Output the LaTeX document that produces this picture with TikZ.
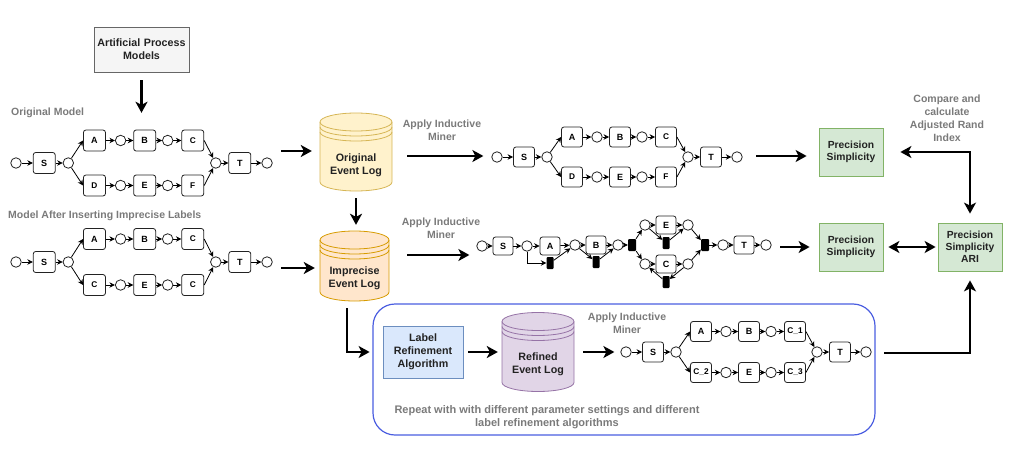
\documentclass[tikz,border=0pt]{standalone}
\usepackage{fontspec}
\setmainfont{Liberation Sans}
\usetikzlibrary{arrows.meta,calc}
\definecolor{gtxt}{HTML}{7A7A7A}
\definecolor{ink}{HTML}{222222}
\definecolor{gbd}{HTML}{82B366}\definecolor{gfl}{HTML}{D5E8D4}
\tikzset{
  tbox/.style={draw=ink,line width=.8pt,fill=white,rounded corners=2.5pt,minimum width=21pt,minimum height=20pt,inner sep=0pt,font=\bfseries\fontsize{9}{10}\selectfont},
  wbox/.style={tbox,font=\bfseries\fontsize{8.3}{10}\selectfont},
  smallbox/.style={tbox,minimum width=20pt,minimum height=18pt},
  place/.style={draw=ink,line width=.8pt,fill=white,circle,minimum size=10.5pt,inner sep=0pt},
  bar/.style={fill=black,rounded corners=1pt,minimum width=7pt,minimum height=12pt,inner sep=0pt},
  sarr/.style={draw=black,line width=.8pt,-{Stealth[length=5.5pt,width=5.5pt]}},
  bigarr/.style={draw=black,line width=2.2pt,-{Stealth[length=11pt,width=12pt,inset=3pt]}},
  bigdbl/.style={draw=black,line width=2.2pt,{Stealth[length=11pt,width=12pt,inset=3pt]}-{Stealth[length=11pt,width=12pt,inset=3pt]}},
  note/.style={text=gtxt,font=\bfseries\fontsize{10.5}{13}\selectfont,align=center,inner sep=0pt},
  body/.style={text=ink,font=\bfseries\fontsize{10.7}{12.8}\selectfont,align=center,inner sep=0pt},
  greenbox/.style={draw=gbd,fill=gfl,line width=.8pt,minimum width=64pt,minimum height=48pt,body,text width=64pt,font=\bfseries\fontsize{10.3}{12}\selectfont},
}
% process model with a common structure
\newcommand{\petri}[8]{%
  \node[place] (#1i) at (0,0) {};
  \node[tbox] (#1s) at (27,0) {S};
  \node[place] (#1a) at (50,0) {};
  \node[tbox] (#1A) at (75,-#2) {#3};
  \node[place] (#1b) at (100,-#2) {};
  \node[tbox] (#1B) at (123,-#2) {#4};
  \node[place] (#1c) at (145,-#2) {};
  \node[wbox] (#1C) at (169,-#2) {#5};
  \node[wbox] (#1D) at (75,#2) {#6};
  \node[place] (#1e) at (100,#2) {};
  \node[tbox] (#1E) at (123,#2) {#7};
  \node[place] (#1f) at (145,#2) {};
  \node[wbox] (#1F) at (169,#2) {#8};
  \node[place] (#1m) at (191,0) {};
  \node[tbox] (#1T) at (214,0) {T};
  \node[place] (#1o) at (240,0) {};
  \draw[sarr] (#1i) -- (#1s);
  \draw[sarr] (#1s) -- (#1a);
  \draw[sarr] (#1a) -- (#1A.west);
  \draw[sarr] (#1a) -- (#1D.west);
  \draw[sarr] (#1A) -- (#1b);
  \draw[sarr] (#1b) -- (#1B);
  \draw[sarr] (#1B) -- (#1c);
  \draw[sarr] (#1c) -- (#1C);
  \draw[sarr] (#1D) -- (#1e);
  \draw[sarr] (#1e) -- (#1E);
  \draw[sarr] (#1E) -- (#1f);
  \draw[sarr] (#1f) -- (#1F);
  \draw[sarr] (#1C.east) -- (#1m);
  \draw[sarr] (#1F.east) -- (#1m);
  \draw[sarr] (#1m) -- (#1T);
  \draw[sarr] (#1T) -- (#1o);
}
% cylinder: name, cx, cy, half width, half height, fill, draw
\newcommand{\logcyl}[7]{%
  \node[minimum width=#4*2pt,minimum height=#5*2pt,inner sep=0pt] (#1) at (#2,#3) {};
  \begin{scope}[shift={(#2,#3)},line width=.8pt]
    \path[fill=#6,draw=#7] (-#4,{-#5+9}) -- (-#4,{#5-9}) arc[start angle=180,end angle=360,x radius=#4pt,y radius=9pt] -- (#4,{-#5+9}) arc[start angle=0,end angle=180,x radius=#4pt,y radius=9pt] -- cycle;
    \draw[#7] (-#4,{-#5+9}) arc[start angle=180,end angle=360,x radius=#4pt,y radius=9pt];
    \draw[#7] (-#4,{-#5+14}) arc[start angle=180,end angle=360,x radius=#4pt,y radius=9pt];
    \draw[#7] (-#4,{-#5+19}) arc[start angle=180,end angle=360,x radius=#4pt,y radius=9pt];
  \end{scope}
}
\begin{document}
\begin{tikzpicture}[x=1pt,y=-1pt]
\useasboundingbox (0,0) rectangle (1014,460);

% container
\node[draw={rgb,255:red,74;green,93;blue,224},line width=1.2pt,rounded corners=22pt,minimum width=502pt,minimum height=131pt,inner sep=0pt] (rep) at (624,369.5) {};

% source box
\node[draw=black!60,fill=black!4,line width=.8pt,minimum width=95pt,minimum height=45pt,body,text width=95pt] (art) at (141.5,49.5) {Artificial Process\\Models};

% titles
\node[note,anchor=west] (t1) at (11,112.5) {Original Model};
\node[note,anchor=west] (t2) at (8,216) {Model After Inserting Imprecise Labels};
\node[note] (t3) at (442,130.5) {Apply Inductive\\Miner};
\node[note] (t4) at (441,228.5) {Apply Inductive\\Miner};
\node[note] (t5) at (627,323.5) {Apply Inductive\\Miner};
\node[note] (t6) at (947,118) {Compare and\\calculate\\Adjusted Rand\\Index};
\node[note,font=\bfseries\fontsize{11}{13}\selectfont] (t7) at (547,417.5) {Repeat with with different parameter settings and different\\label refinement algorithms};

% models
\begin{scope}[shift={(16,163)},x=1.046pt,tbox/.append style={minimum width=22pt,minimum height=21pt}]
  \petri{m}{22.5}{A}{B}{C}{D}{E}{F}
\end{scope}
\begin{scope}[shift={(16,262)},x=1.046pt,tbox/.append style={minimum width=22pt,minimum height=21pt}]
  \petri{n}{23}{A}{B}{C}{C}{E}{C}
\end{scope}
\begin{scope}[shift={(497,157)}]
  \petri{p}{20}{A}{B}{C}{D}{E}{F}
\end{scope}
\begin{scope}[shift={(626,352)}]
  \petri{q}{20.5}{A}{B}{C\_1}{C\_2}{E}{C\_3}
\end{scope}

% discovered imprecise model
\node[place] (ri) at (482,246) {};
\node[smallbox] (rs) at (503,246) {S};
\node[place] (r1) at (527,246) {};
\node[smallbox] (rA) at (550,246) {A};
\node[bar] (rx) at (550,263) {};
\node[place] (r2) at (575,245) {};
\node[smallbox] (rB) at (596,245) {B};
\node[bar] (ry) at (596,262) {};
\node[place] (r3) at (618,245) {};
\node[bar,minimum width=8pt] (rz) at (632,245) {};
\node[place] (e1) at (645,225) {};
\node[smallbox] (rE) at (666,225) {E};
\node[place] (e2) at (688,225) {};
\node[bar] (eb) at (666,243) {};
\node[place] (c1) at (645,264) {};
\node[smallbox] (rC) at (666,264) {C};
\node[place] (c2) at (688,264) {};
\node[bar] (cb) at (666,282) {};
\node[bar,minimum width=8pt] (rw) at (705,245) {};
\node[place] (r4) at (723,245) {};
\node[smallbox] (rT) at (744,245) {T};
\node[place] (ro) at (766,245) {};
\draw[sarr] (ri) -- (rs);
\draw[sarr] (rs) -- (r1);
\draw[sarr] (r1) -- (rA);
\draw[sarr] (r1) |- (rx);
\draw[sarr] (rA) -- (r2);
\draw[sarr] (rx) -- (r2);
\draw[sarr] (r2) -- (rB);
\draw[sarr] (r2) -- (ry);
\draw[sarr] (rB) -- (r3);
\draw[sarr] (ry) -- (r3);
\draw[sarr] (r3) -- (rz);
\draw[sarr] (rz) -- (e1);
\draw[sarr] (rz) -- (c1);
\draw[sarr] (e1) -- (rE);
\draw[sarr] (e1) -- (eb);
\draw[sarr] (rE) -- (e2);
\draw[sarr] (eb) -- (e2);
\draw[sarr] (e2) -- (rw);
\draw[sarr] (c1) -- (rC);
\draw[sarr] (rC) -- (c2);
\draw[sarr] (c2) -- (cb);
\draw[sarr] (cb) -- (c1);
\draw[sarr] (c2) -- (rw);
\draw[sarr] (rw) -- (r4);
\draw[sarr] (r4) -- (rT);
\draw[sarr] (rT) -- (ro);

% logs
\definecolor{yf}{HTML}{FFF2CC}\definecolor{yd}{HTML}{D6B656}
\definecolor{of}{HTML}{FFE6CC}\definecolor{od}{HTML}{D79B00}
\definecolor{pf}{HTML}{E1D5E7}\definecolor{pd}{HTML}{9673A6}
\logcyl{orig}{356}{152}{36}{39}{yf}{yd}
\logcyl{impr}{354.5}{266}{34.5}{35}{of}{od}
\logcyl{refd}{538}{352}{36}{39.5}{pf}{pd}
\node[body] (origt) at (356,165) {Original\\Event Log};
\node[body] (imprt) at (354.5,278) {Imprecise\\Event Log};
\node[body] (refdt) at (538,364) {Refined\\Event Log};

% result boxes
\node[draw={rgb,255:red,108;green,142;blue,191},fill={rgb,255:red,218;green,232;blue,252},line width=.8pt,minimum width=80pt,minimum height=52pt,body,text width=80pt] (lra) at (423,352) {Label\\Refinement\\Algorithm};
\node[greenbox] (g1) at (851,152) {Precision\\Simplicity};
\node[greenbox] (g2) at (851,247) {Precision\\Simplicity};
\node[greenbox] (g3) at (970,247) {Precision\\Simplicity\\ARI};

% free ends
\coordinate (a1) at (281,151);
\coordinate (a2) at (281,268);
\coordinate (a3) at (407,156);
\coordinate (a4) at (407,255);
\coordinate (a5) at (756,156);
\coordinate (a6) at (780,247);
\coordinate (a7) at (884,353);
\coordinate (a8) at (347,308);

\draw[bigarr,shorten <=8pt] (art.south) -- (art.south |- orig.north);
\draw[bigarr,shorten >=8pt] (a1) -- (orig.west |- a1);
\draw[bigarr,shorten >=5pt] (a2) -- (impr.west |- a2);
\draw[bigarr,shorten <=7pt,shorten >=6pt] (orig.south) -- (orig.south |- impr.north);
\draw[bigarr,shorten >=8pt] (a3) -- (pi.west |- a3);
\draw[bigarr,shorten >=7pt] (a4) -- (ri.west |- a4);
\draw[bigarr,shorten >=12pt] (a5) -- (g1.west |- a5);
\draw[bigarr,shorten >=9pt] (a6) -- (g2.west);
\draw[bigdbl,shorten <=17pt,shorten >=9pt] (g1.east) -| (g3.north);
\draw[bigdbl,shorten <=5pt,shorten >=2pt] (g2.east) -- (g3.west);
\draw[bigarr,shorten >=9pt] (a7) -| (g3.south);
\draw[bigarr,shorten >=13pt] (a8) |- (lra.west);
\draw[bigarr,shorten <=5pt,shorten >=4pt] (lra.east) -- (refd.west);
\draw[bigarr,shorten <=9pt,shorten >=6pt] (refd.east) -- (qi.west);
\end{tikzpicture}
\end{document}
